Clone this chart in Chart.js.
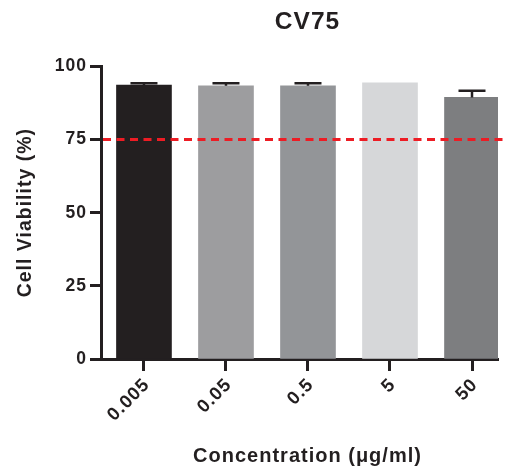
<!DOCTYPE html>
<html>
<head>
<meta charset="utf-8">
<script src="https://cdn.jsdelivr.net/npm/chart.js@4.4.1/dist/chart.umd.min.js"></script>
<style>
  html, body { margin: 0; padding: 0; background: #fff; }
  #wrap { width: 505px; height: 471px; }
</style>
</head>
<body>
<div id="wrap"><canvas id="viabilityChart" width="505" height="471"></canvas></div>
<script>
// Chart data
const categories = ['0.005', '0.05', '0.5', '5', '50'];
const viability = [93.6, 93.4, 93.4, 94.4, 89.4];
const errors = [0.6, 0.8, 0.8, 0, 2.3];
const barColors = ['#231f20', '#9d9d9f', '#939598', '#d6d7d9', '#7d7e80'];
const yTicks = [0, 25, 50, 75, 100];
const threshold = 75;
const xTitle = 'Concentration (μg/ml)';

const ink = '#231f20';
const fontFamily = '"Liberation Sans", Arial, Helvetica, sans-serif';

// Prism-like slightly spaced lettering
const spacing = {
  id: 'spacing',
  beforeUpdate: (chart) => { chart.ctx.letterSpacing = '1px'; },
  beforeDraw: (chart) => { chart.ctx.letterSpacing = '1px'; }
};

// Prism centres the titles a bit right of the plot area
const titleShift = {
  id: 'titleShift',
  afterLayout: (chart) => {
    chart.titleBlock.left += 8;
    chart.titleBlock.right += 8;
  },
  afterDraw: (chart) => {
    const ctx = chart.ctx;
    const area = chart.chartArea;
    ctx.save();
    ctx.letterSpacing = '1px';
    ctx.fillStyle = ink;
    ctx.font = 'bold 20px ' + fontFamily;
    ctx.textAlign = 'center';
    ctx.textBaseline = 'middle';
    ctx.fillText(xTitle, (area.left + area.right) / 2 + 8, chart.height - 15);
    ctx.restore();
  }
};

// SD error bars (upper only)
const errorBars = {
  id: 'errorBars',
  afterDatasetsDraw: (chart) => {
    const ctx = chart.ctx;
    const y = chart.scales.y;
    const meta = chart.getDatasetMeta(0);
    ctx.save();
    ctx.strokeStyle = ink;
    ctx.lineWidth = 2.5;
    meta.data.forEach((bar, i) => {
      if (!errors[i]) return;
      const top = y.getPixelForValue(viability[i] + errors[i]);
      ctx.beginPath();
      ctx.moveTo(bar.x, bar.y);
      ctx.lineTo(bar.x, top);
      ctx.moveTo(bar.x - 13.5, top);
      ctx.lineTo(bar.x + 13.5, top);
      ctx.stroke();
    });
    ctx.restore();
  }
};

// red dashed 75% line
const thresholdLine = {
  id: 'thresholdLine',
  afterDatasetsDraw: (chart) => {
    const ctx = chart.ctx;
    const yPix = chart.scales.y.getPixelForValue(threshold);
    ctx.save();
    ctx.strokeStyle = '#ed1c24';
    ctx.lineWidth = 3;
    ctx.setLineDash([8, 5.5]);
    ctx.beginPath();
    ctx.moveTo(chart.chartArea.left + 2, yPix);
    ctx.lineTo(chart.width, yPix);
    ctx.stroke();
    ctx.restore();
  }
};

new Chart(document.getElementById('viabilityChart').getContext('2d'), {
  type: 'bar',
  data: {
    datasets: [{
      data: viability.map((v, i) => ({ x: i, y: v })),
      backgroundColor: barColors,
      borderWidth: 0,
      barThickness: 55
    }]
  },
  options: {
    responsive: false,
    animation: false,
    devicePixelRatio: 1,
    layout: { padding: { left: 0, right: 7, top: 0, bottom: 0 } },
    plugins: {
      legend: { display: false },
      tooltip: { enabled: false },
      title: {
        display: true,
        text: 'CV75',
        fullSize: false,
        color: ink,
        font: { family: fontFamily, size: 24.5, weight: 'bold' },
        padding: { top: 8, bottom: 29 }
      }
    },
    scales: {
      x: {
        type: 'linear',
        min: -0.524,
        max: 4.317,
        bounds: 'data',
        offset: false,
        afterFit: (scale) => { scale.height = 112; },
        afterBuildTicks: (scale) => {
          scale.ticks = categories.map((_, i) => ({ value: i }));
        },
        ticks: {
          autoSkip: false,
          minRotation: 45,
          maxRotation: 45,
          padding: 3,
          labelOffset: 3,
          color: ink,
          font: { family: fontFamily, size: 18.5, weight: 'bold' },
          callback: (value) => categories[value]
        },
        grid: {
          offset: false,
          drawOnChartArea: false,
          drawTicks: true,
          tickLength: 12,
          tickWidth: 3,
          tickColor: ink
        },
        border: { display: true, color: ink, width: 3 },
        title: { display: false }
      },
      y: {
        min: 0,
        max: 100,
        afterFit: (scale) => { scale.width = 101; },
        afterBuildTicks: (scale) => {
          scale.ticks = yTicks.map(v => ({ value: v }));
        },
        ticks: {
          padding: 3,
          color: ink,
          font: { family: fontFamily, size: 17.5, weight: 'bold' }
        },
        grid: {
          drawOnChartArea: false,
          drawTicks: true,
          tickLength: 11,
          tickWidth: 3,
          tickColor: ink
        },
        border: { display: true, color: ink, width: 3 },
        title: {
          display: true,
          text: 'Cell Viability (%)',
          color: ink,
          font: { family: fontFamily, size: 19.5, weight: 'bold' },
          padding: { top: 14, bottom: 0 }
        }
      }
    }
  },
  plugins: [spacing, titleShift, thresholdLine, errorBars]
});
</script>
</body>
</html>
